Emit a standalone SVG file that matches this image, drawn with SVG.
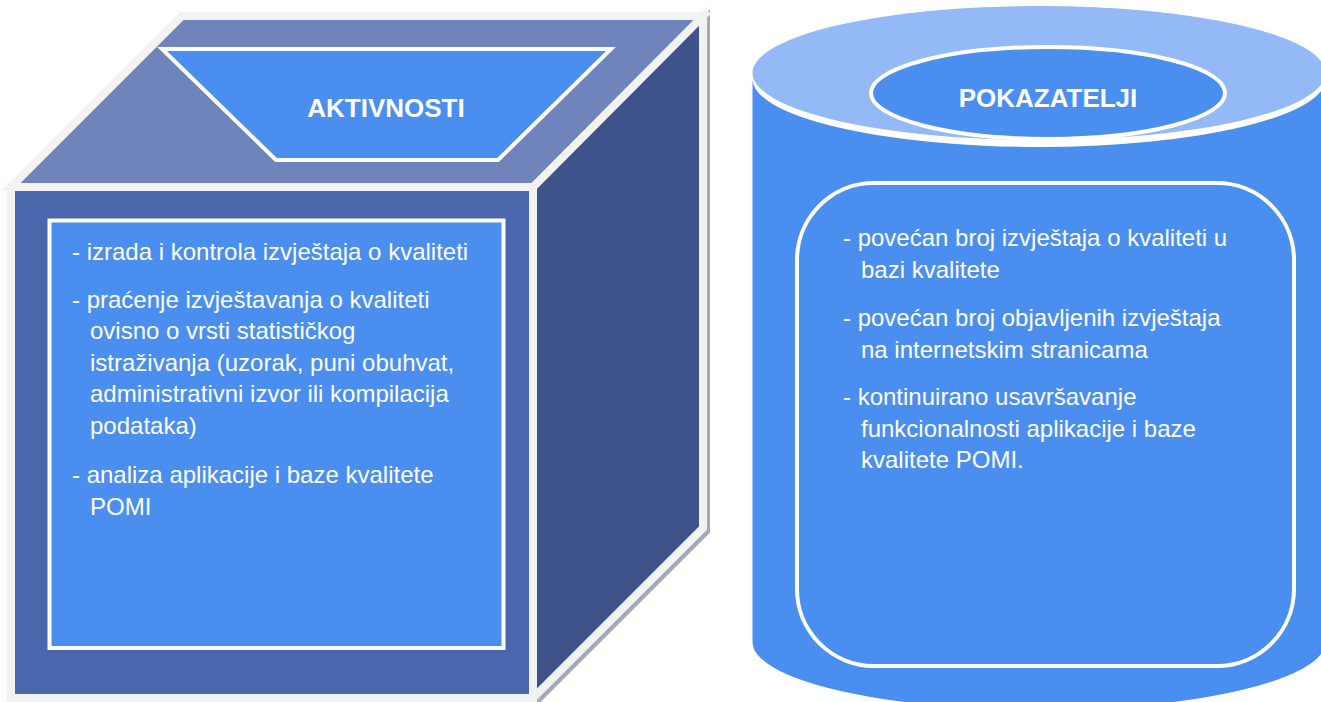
<svg xmlns="http://www.w3.org/2000/svg" width="1321" height="702" viewBox="0 0 1321 702">
  <style>
    .edge { stroke: #f2f2f2; stroke-width: 8; stroke-linejoin: miter; }
    .label { font-family: "Liberation Sans", Arial, sans-serif; font-weight: bold; font-size: 26px; fill: #ffffff; text-anchor: middle; }
    .body { font-family: "Liberation Sans", Arial, sans-serif; font-size: 24px; fill: #ffffff; }
    .frame { fill: #4a8ef0; stroke: #ffffff; stroke-width: 4; }
  </style>
  <rect width="1321" height="702" fill="#ffffff"/>

  <!-- Cube: activities -->
  <g id="aktivnosti">
    <!-- drop shadow along the right and lower edges -->
    <polygon points="536,190 706,19 706,531 536,701" fill="#a3aaba" stroke="#a3aaba" stroke-width="8"/>
    <polygon class="edge" points="533,187 703,16 703,528 533,698" fill="#3d5389"/>
    <polygon class="edge" points="11,187 182,16 703,16 533,187" fill="#6f84bb"/>
    <rect class="edge" x="11" y="187" width="522" height="511" fill="#4a67ad"/>
    <polygon class="frame" points="162,49 611,49 498,160 276,160"/>
    <text class="label" x="386" y="117">AKTIVNOSTI</text>
    <rect class="frame" x="49.5" y="220.5" width="454" height="427.5"/>
    <text class="body">
      <tspan x="72" y="260">- izrada i kontrola izvještaja o kvaliteti</tspan>
      <tspan x="72" y="307.5">- praćenje izvještavanja o kvaliteti</tspan>
      <tspan x="90" y="339">ovisno o vrsti statističkog</tspan>
      <tspan x="90" y="370.5">istraživanja (uzorak, puni obuhvat,</tspan>
      <tspan x="90" y="402">administrativni izvor ili kompilacija</tspan>
      <tspan x="90" y="433.5">podataka)</tspan>
      <tspan x="72" y="483">- analiza aplikacije i baze kvalitete</tspan>
      <tspan x="90" y="515">POMI</tspan>
    </text>
  </g>

  <!-- Cylinder: indicators -->
  <g id="pokazatelji">
    <path d="M752.5,81 V642 A286.5,68 0 0 0 1325.5,642 V81 Z" fill="#4a8ef0"/>
    <ellipse cx="1039" cy="79" rx="286.5" ry="68" fill="#ffffff"/>
    <ellipse cx="1039" cy="73" rx="286.5" ry="67" fill="#93b9f7"/>
    <ellipse class="frame" cx="1048" cy="93" rx="177" ry="46"/>
    <text class="label" x="1048" y="107">POKAZATELJI</text>
    <rect class="frame" x="797" y="183" width="497" height="483" rx="77" ry="77"/>
    <text class="body">
      <tspan x="843" y="246">- povećan broj izvještaja o kvaliteti u</tspan>
      <tspan x="861" y="277.5">bazi kvalitete</tspan>
      <tspan x="843" y="326">- povećan broj objavljenih izvještaja</tspan>
      <tspan x="861" y="357.5">na internetskim stranicama</tspan>
      <tspan x="843" y="405">- kontinuirano usavršavanje</tspan>
      <tspan x="861" y="436.5">funkcionalnosti aplikacije i baze</tspan>
      <tspan x="861" y="468">kvalitete POMI.</tspan>
    </text>
  </g>

  <g id="connectors"/>
</svg>
